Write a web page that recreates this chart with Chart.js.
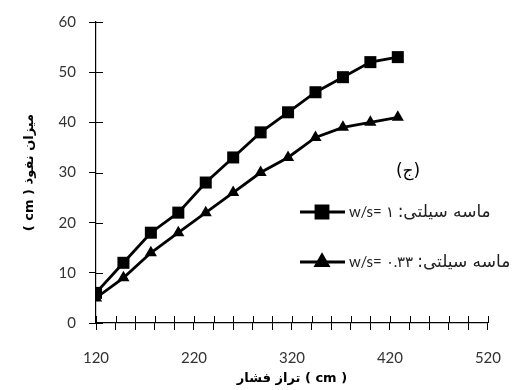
<!DOCTYPE html>
<html>
<head>
<meta charset="utf-8">
<script src="https://cdn.jsdelivr.net/npm/chart.js@4/dist/chart.umd.min.js"></script>
<style>
html,body{margin:0;padding:0;background:#fff;}
#wrap{width:520px;height:390px;position:relative;}
</style>
</head>
<body>
<div id="wrap"><canvas id="c" width="520" height="390"></canvas></div>
<script>
// Data
const pressureLevels = [120, 148, 176, 204, 232, 260, 288, 316, 344, 372, 400, 428];
const seriesWS1 = [6, 12, 18, 22, 28, 33, 38, 42, 46, 49, 52, 53];
const seriesWS033 = [5, 9, 14, 18, 22, 26, 30, 33, 37, 39, 40, 41];
const seriesLabels = ['w/s= ۱', 'w/s= ۰.۳۳'];
const legendPrefix = 'ماسه سیلتی:';
const panelLabel = '(ج)';
const xTitle = 'تراز فشار ( cm )';
const yTitle = '( cm ) میزان نفوذ';
const xMin = 120, xMax = 520, xStep = 20, xLabelStep = 100;
const yMin = 0, yMax = 60, yStep = 10;

const latinFont = 'Lato, "Open Sans", "Liberation Sans", sans-serif';
const persianFont = '"DejaVu Sans", "Noto Sans", sans-serif';

// draws inner half of tick marks (ticks cross the axis) and the custom legend
const overlay = {
  id: 'overlay',
  afterDatasetsDraw(chart) {
    const ctx = chart.ctx;
    const xs = chart.scales.x, ys = chart.scales.y;
    const area = chart.chartArea;
    ctx.save();
    ctx.strokeStyle = '#000';
    ctx.lineWidth = 1;
    xs.ticks.forEach(t => {
      const px = Math.round(xs.getPixelForValue(t.value)) + 0.5;
      ctx.beginPath(); ctx.moveTo(px, area.bottom); ctx.lineTo(px, area.bottom - 7); ctx.stroke();
    });
    ys.ticks.forEach(t => {
      const py = Math.round(ys.getPixelForValue(t.value)) + 0.5;
      ctx.beginPath(); ctx.moveTo(area.left, py); ctx.lineTo(area.left + 7, py); ctx.stroke();
    });
    // legend
    const rows = [212, 262];
    chart.data.datasets.forEach((ds, i) => {
      const y = rows[i];
      ctx.strokeStyle = '#000';
      ctx.lineWidth = 2.8;
      ctx.beginPath(); ctx.moveTo(300, y); ctx.lineTo(345, y); ctx.stroke();
      ctx.fillStyle = '#000';
      Chart.helpers.drawPoint(ctx, {pointStyle: ds.pointStyle, radius: ds.pointRadius, borderWidth: 1}, 322, y);
      ctx.fillStyle = '#222';
      ctx.textBaseline = 'middle';
      ctx.direction = 'ltr';
      ctx.textAlign = 'left';
      ctx.font = '15px ' + latinFont;
      ctx.fillText(ds.label, 349, y);
      const w = ctx.measureText(ds.label).width;
      ctx.font = '17px ' + persianFont;
      ctx.direction = 'rtl';
      ctx.textAlign = 'left';
      ctx.fillText(legendPrefix, 349 + w + 4, y + 1);
    });
    ctx.direction = 'rtl';
    ctx.textAlign = 'center';
    ctx.textBaseline = 'middle';
    ctx.fillStyle = '#000';
    ctx.font = '17px ' + persianFont;
    ctx.fillText(panelLabel, 408, 172);
    ctx.restore();
  }
};

new Chart(document.getElementById('c'), {
  type: 'line',
  data: {
    datasets: [
      {
        label: seriesLabels[0],
        data: pressureLevels.map((x, i) => ({x: x, y: seriesWS1[i]})),
        borderColor: '#000', backgroundColor: '#000', borderWidth: 2.8,
        pointStyle: 'rect', pointRadius: 8.5, pointBorderWidth: 0, tension: 0
      },
      {
        label: seriesLabels[1],
        data: pressureLevels.map((x, i) => ({x: x, y: seriesWS033[i]})),
        borderColor: '#000', backgroundColor: '#000', borderWidth: 2.8,
        pointStyle: 'triangle', pointRadius: 7, pointBorderWidth: 0, tension: 0
      }
    ]
  },
  options: {
    responsive: false,
    animation: false,
    devicePixelRatio: 1,
    layout: {padding: {top: 18, right: 32, left: 0, bottom: 0}},
    plugins: {legend: {display: false}, tooltip: {enabled: false}, title: {display: false}},
    scales: {
      x: {
        type: 'linear', min: xMin, max: xMax,
        grid: {drawOnChartArea: false, drawTicks: true, tickLength: 7, color: '#000'},
        border: {color: '#000', width: 1.2},
        ticks: {
          stepSize: xStep, autoSkip: false, maxRotation: 0, padding: 19,
          color: '#333', font: {family: latinFont, size: 15},
          callback: v => ((v - xMin) % xLabelStep === 0 ? String(v) : '')
        },
        title: {display: true, text: xTitle, color: '#000', font: {family: persianFont, size: 13, weight: 'bold'}, padding: {top: 4, bottom: 4}},
        afterFit: s => { s.height = 67; }
      },
      y: {
        min: yMin, max: yMax,
        grid: {drawOnChartArea: false, drawTicks: true, tickLength: 7, color: '#000'},
        border: {color: '#000', width: 1.2},
        ticks: {stepSize: yStep, padding: 13, color: '#333', font: {family: latinFont, size: 15}},
        title: {display: true, text: yTitle, color: '#000', font: {family: persianFont, size: 13, weight: 'bold'}, padding: {top: 22, bottom: 0}},
        afterFit: s => { s.width = 96; }
      }
    }
  },
  plugins: [overlay]
});
</script>
</body>
</html>
